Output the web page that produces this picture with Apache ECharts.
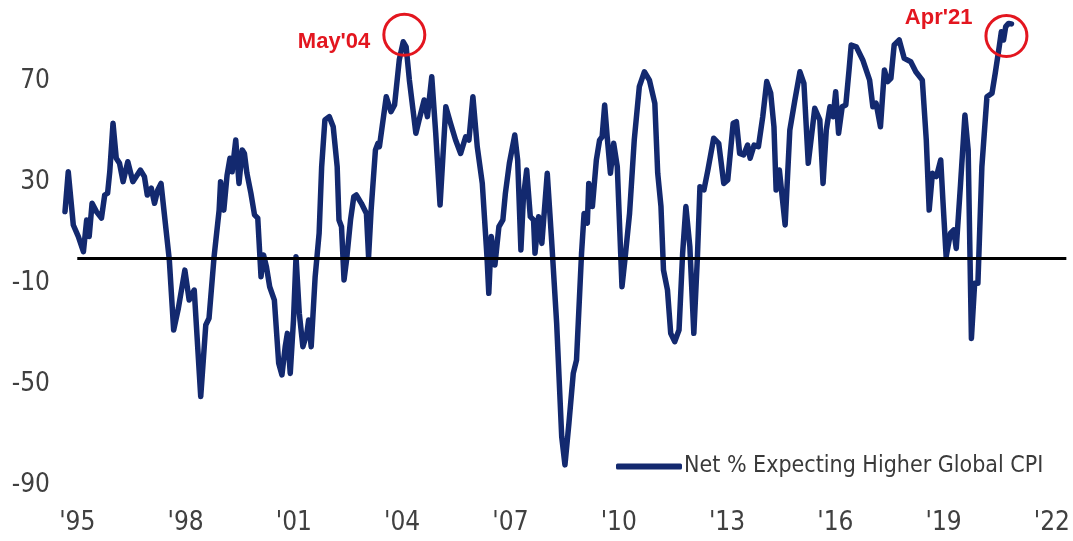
<!DOCTYPE html>
<html lang="en">
<head>
    <meta charset="UTF-8">
    <title>Net % Expecting Higher Global CPI</title>
    <script src="https://cdn.jsdelivr.net/npm/echarts@6.0.0/dist/echarts.min.js"></script>
    <style>
        body { margin: 0; background: #fff; }
        #main { width: 1073px; height: 541px; }
    </style>
</head>
<body>
    <div id="main"></div>
    <script type="text/javascript">
        var years = [
            1994.66, 1994.75, 1994.89, 1995.03, 1995.17, 1995.26, 1995.33, 1995.41, 1995.53, 1995.67,
            1995.76, 1995.84, 1995.90, 1995.99, 1996.08, 1996.17, 1996.27, 1996.40, 1996.54, 1996.75,
            1996.86, 1996.94, 1997.05, 1997.14, 1997.23, 1997.32, 1997.41, 1997.55, 1997.67, 1997.80,
            1997.98, 1998.10, 1998.24, 1998.42, 1998.56, 1998.65, 1998.79, 1998.93, 1998.97, 1999.06,
            1999.15, 1999.23, 1999.29, 1999.39, 1999.48, 1999.57, 1999.63, 1999.70, 1999.81, 1999.91,
            2000.00, 2000.09, 2000.16, 2000.24, 2000.33, 2000.46, 2000.58, 2000.67, 2000.76, 2000.82,
            2000.90, 2000.99, 2001.06, 2001.15, 2001.25, 2001.36, 2001.41, 2001.48, 2001.59, 2001.70,
            2001.77, 2001.86, 2001.98, 2002.09, 2002.20, 2002.25, 2002.32, 2002.39, 2002.46, 2002.57,
            2002.66, 2002.73, 2002.87, 2003.01, 2003.07, 2003.14, 2003.26, 2003.33, 2003.37, 2003.56,
            2003.69, 2003.79, 2003.92, 2004.03, 2004.11, 2004.20, 2004.38, 2004.47, 2004.61, 2004.70,
            2004.82, 2004.93, 2005.05, 2005.21, 2005.34, 2005.48, 2005.62, 2005.76, 2005.85, 2005.96,
            2006.08, 2006.22, 2006.35, 2006.40, 2006.47, 2006.57, 2006.68, 2006.79, 2006.86, 2006.97,
            2007.12, 2007.20, 2007.29, 2007.36, 2007.45, 2007.55, 2007.64, 2007.68, 2007.78, 2007.87,
            2008.02, 2008.14, 2008.28, 2008.42, 2008.51, 2008.62, 2008.74, 2008.83, 2008.97, 2009.04,
            2009.13, 2009.17, 2009.27, 2009.38, 2009.47, 2009.54, 2009.61, 2009.68, 2009.77, 2009.86,
            2009.96, 2010.09, 2010.18, 2010.30, 2010.43, 2010.57, 2010.71, 2010.85, 2011.00, 2011.08,
            2011.17, 2011.24, 2011.35, 2011.44, 2011.55, 2011.67, 2011.77, 2011.86, 2011.97, 2012.08,
            2012.18, 2012.25, 2012.36, 2012.47, 2012.63, 2012.77, 2012.91, 2013.02, 2013.17, 2013.26,
            2013.35, 2013.46, 2013.57, 2013.64, 2013.75, 2013.87, 2013.99, 2014.10, 2014.21, 2014.30,
            2014.36, 2014.45, 2014.61, 2014.74, 2014.88, 2015.02, 2015.13, 2015.25, 2015.43, 2015.57,
            2015.66, 2015.75, 2015.85, 2015.94, 2016.01, 2016.09, 2016.19, 2016.29, 2016.38, 2016.44,
            2016.58, 2016.76, 2016.95, 2017.04, 2017.13, 2017.25, 2017.36, 2017.45, 2017.54, 2017.63,
            2017.77, 2017.91, 2018.09, 2018.23, 2018.41, 2018.52, 2018.60, 2018.69, 2018.80, 2018.92,
            2018.98, 2019.07, 2019.19, 2019.28, 2019.35, 2019.47, 2019.59, 2019.68, 2019.77, 2019.86,
            2019.95, 2020.06, 2020.20, 2020.34, 2020.43, 2020.54, 2020.60, 2020.66, 2020.72, 2020.80,
            2020.88
        ];
        var netPct = [
            18.4, 34.2, 13.1, 8.5, 2.5, 15.1, 8.5, 21.7, 18.4, 15.8,
            25, 25.7, 34.2, 53.5, 39.6, 37.6, 30.3, 38.2, 30.3, 34.9,
            32.3, 25, 27.7, 21.7, 27, 29.6, 17.7, -0.8, -28.6, -20,
            -4.8, -16.7, -12.7, -55, -26.6, -23.9, 0.5, 19, 30.3, 19,
            32.9, 39.6, 34.2, 46.8, 29.6, 42.9, 41.5, 33.6, 25.7, 17.1,
            15.8, -7.4, 1.2, -3.4, -11.4, -16.7, -41.8, -46.4, -35.2, -29.9,
            -45.8, -24.6, 0.5, -21.9, -35.2, -29.9, -24.6, -35.2, -7.4, 9.8,
            36.2, 54.8, 56.1, 52.1, 36.2, 15.1, 12.4, -8.7, -0.8, 15.1,
            24.3, 25, 21.7, 17.7, 0.5, 19, 42.9, 45.5, 44.2, 64,
            58.1, 60.7, 78.6, 85.8, 83.8, 70.6, 49.5, 54.8, 62.7, 56.1,
            71.9, 49.5, 21, 60, 53.5, 46.8, 41.5, 48.1, 46.8, 64,
            44.2, 29.6, 0.5, -14, 8.5, -2.8, 12.4, 15.1, 25.7, 37.6,
            48.8, 38.9, 3.2, 24.3, 34.9, 16.4, 15.1, 1.9, 16.4, 5.8,
            33.6, 7.1, -25.9, -70.9, -82.1, -65.6, -45.8, -40.5, 1.9, 17.7,
            13.8, 29.6, 20.4, 38.9, 46.8, 48.1, 60.7, 48.1, 33.6, 45.5,
            36.2, -11.4, 0.5, 17.7, 46.8, 68, 73.9, 70.6, 61.4, 33.6,
            20.4, -4.8, -12.7, -29.9, -33.2, -28.6, 1.9, 20.4, 4.5, -29.9,
            0.5, 28.3, 27, 34.9, 47.5, 45.5, 29.6, 31, 53.5, 54.1,
            41.5, 40.9, 44.8, 39.6, 44.8, 44.2, 56.1, 70, 65.4, 52.1,
            27, 34.9, 13.1, 50.8, 62.7, 73.9, 69.3, 37.6, 59.4, 54.8,
            29.6, 50.8, 60, 56.1, 66, 49.5, 60, 60.7, 74.6, 84.5,
            83.8, 78.6, 70.6, 60, 61.4, 52.1, 74.6, 70, 71.3, 84.5,
            86.5, 79.2, 77.9, 73.9, 70.6, 46.8, 19, 33.6, 32.3, 38.9,
            23, 0.5, 9.8, 11.1, 3.8, 29.6, 56.7, 42.9, -31.9, -10,
            -10, 36.2, 64, 65.4, 73.3, 83.8, 89.8, 86.5, 91.8, 93.1,
            92.9
        ];
        var yearTicks = [1995, 1998, 2001, 2004, 2007, 2010, 2013, 2016, 2019, 2022];
        var valueTicks = [-90, -50, -10, 30, 70];
        // circled highlights
        var calloutNames = ["May'04", "Apr'21"];
        var calloutYears = [2004.06, 2020.74];
        var calloutValues = [88.6, 88.1];

        var seriesName = 'Net % Expecting Higher Global CPI';
        var axisFont = '"DejaVu Sans Condensed", "Liberation Sans", sans-serif';
        var navy = '#13296f';
        var red = '#e3161f';

        var lineData = years.map(function (y, i) { return [y, netPct[i]]; });
        var callouts = calloutNames.map(function (n, i) {
            return {
                name: n,
                coord: [calloutYears[i], calloutValues[i]],
                label: { offset: i === 0 ? [0, 7] : [0, -18] }
            };
        });

        var myChart = echarts.init(document.getElementById('main'));
        var option = {
            animation: false,
            grid: { left: 65, right: 0, top: 6, bottom: 31 },
            legend: {
                data: [seriesName],
                left: 616,
                top: 455,
                padding: 0,
                icon: 'roundRect',
                itemWidth: 66,
                itemHeight: 6,
                textStyle: { fontFamily: axisFont, fontSize: 23, color: '#3a3a3a', padding: [0, 0, 0, -3] }
            },
            xAxis: {
                type: 'value',
                min: 1994.66,
                max: 2022.4,
                axisLine: { show: false },
                axisTick: { show: false },
                splitLine: { show: false },
                axisLabel: {
                    customValues: yearTicks,
                    margin: 0,
                    fontFamily: axisFont,
                    fontSize: 26,
                    color: '#404040',
                    formatter: function (v) { return "'" + String(v).slice(2); }
                }
            },
            yAxis: {
                type: 'value',
                min: -100,
                max: 100,
                axisLine: { show: false },
                axisTick: { show: false },
                splitLine: { show: false },
                axisLabel: {
                    customValues: valueTicks,
                    margin: 15,
                    fontFamily: axisFont,
                    fontSize: 26,
                    color: '#404040'
                }
            },
            series: [{
                name: seriesName,
                type: 'line',
                data: lineData,
                showSymbol: false,
                color: navy,
                lineStyle: { width: 5.5, color: navy, cap: 'round', join: 'round' },
                markLine: {
                    silent: true,
                    symbol: 'none',
                    label: { show: false },
                    lineStyle: { color: '#000', width: 3, type: 'solid' },
                    data: [[{ coord: [1995, 0] }, { coord: [2022.4, 0] }]]
                },
                markPoint: {
                    silent: true,
                    symbol: 'circle',
                    symbolSize: 41,
                    itemStyle: { color: 'rgba(0,0,0,0)', borderColor: red, borderWidth: 3 },
                    label: {
                        show: true,
                        position: 'left',
                        distance: 12,
                        formatter: '{b}',
                        fontFamily: '"Liberation Sans", Arial, sans-serif',
                        fontWeight: 'bold',
                        fontSize: 22,
                        color: red
                    },
                    data: callouts
                }
            }]
        };
        myChart.setOption(option);
    </script>
</body>
</html>
